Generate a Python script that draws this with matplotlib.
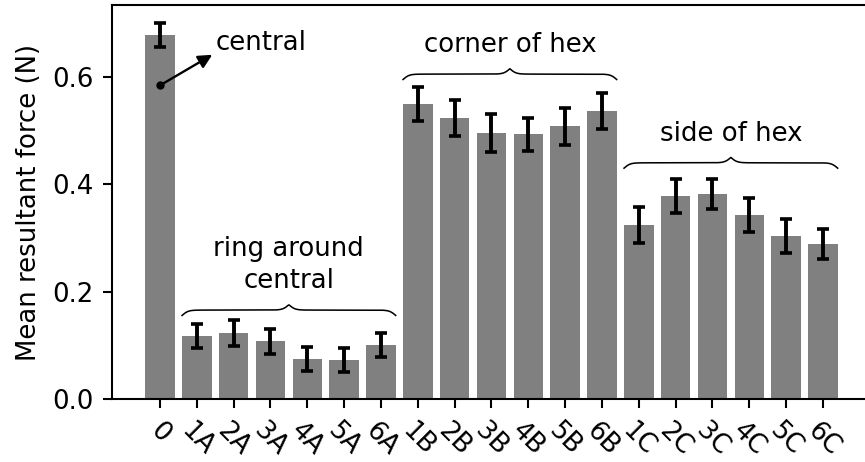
import numpy as np
import matplotlib
matplotlib.use("Agg")
import matplotlib.pyplot as plt

# Mean resultant force per sensor position, with error (N)
labels = ["0", "1A", "2A", "3A", "4A", "5A", "6A",
          "1B", "2B", "3B", "4B", "5B", "6B",
          "1C", "2C", "3C", "4C", "5C", "6C"]
means = [0.678, 0.118, 0.123, 0.108, 0.075, 0.073, 0.101,
         0.549, 0.523, 0.495, 0.493, 0.508, 0.536,
         0.324, 0.378, 0.382, 0.343, 0.304, 0.289]
errors = [0.022, 0.023, 0.024, 0.023, 0.023, 0.023, 0.023,
          0.032, 0.033, 0.035, 0.031, 0.034, 0.034,
          0.033, 0.032, 0.028, 0.032, 0.032, 0.028]

# Groups: (first index, last index, brace level, label)
group_start = [1, 7, 13]
group_end = [6, 12, 18]
group_level = [0.166, 0.605, 0.440]
group_names = ["ring around\ncentral", "corner of hex", "side of hex"]

DPI = 187
fig = plt.figure(figsize=(865 / DPI, 462 / DPI), dpi=DPI)
ax = fig.add_axes([111.7 / 865, 62.7 / 462, (872 - 111.7) / 865, (457 - 62.7) / 462])

x = np.arange(len(labels))
ax.bar(x, means, width=0.8, color="grey")
ax.errorbar(x, means, yerr=errors, fmt="none", ecolor="black",
            elinewidth=1.5, capsize=2.3, capthick=1.4)

ax.set_xticks(x)
ax.set_xticklabels(labels, rotation=-45, ha="center")
ax.set_ylabel("Mean resultant force (N)")
ax.set_ylim(0, 0.7336)
ax.set_xlim(-1.31, (872 - 160) / 36.83)
ax.set_yticks([0.0, 0.2, 0.4, 0.6])
ax.spines["right"].set_visible(False)


def curly_brace(ax, x0, x1, y, h=0.02, beta=12.0):
    xs = np.linspace(x0, x1, 801)
    mid = 0.5 * (x0 + x1)
    half = xs[xs <= mid]
    yh = 1 / (1 + np.exp(-beta * (half - x0))) + 1 / (1 + np.exp(-beta * (half - mid)))
    ys = np.concatenate((yh, yh[-2::-1]))
    xs_full = np.concatenate((half, (2 * mid - half)[-2::-1]))
    ax.plot(xs_full, y + h * (ys - 1), color="black", lw=0.6, clip_on=False)
    return mid, y + 0.5 * h


for s, e, lev, name in zip(group_start, group_end, group_level, group_names):
    mid, tip = curly_brace(ax, s - 0.4, e + 0.4, lev)
    ax.text(mid, tip + 0.02, name, ha="center", va="bottom", linespacing=1.3)

# Central sensor annotation
ax.plot(0, 0.584, "o", color="black", markersize=2.2)
ax.annotate("", xy=(1.42, 0.641), xytext=(0, 0.584),
            arrowprops=dict(arrowstyle="-|>", color="black", lw=0.9,
                            shrinkA=0, shrinkB=0, mutation_scale=11))
ax.text(1.5, 0.663, "central", ha="left", va="center")

fig.savefig("out.png", dpi=DPI)
